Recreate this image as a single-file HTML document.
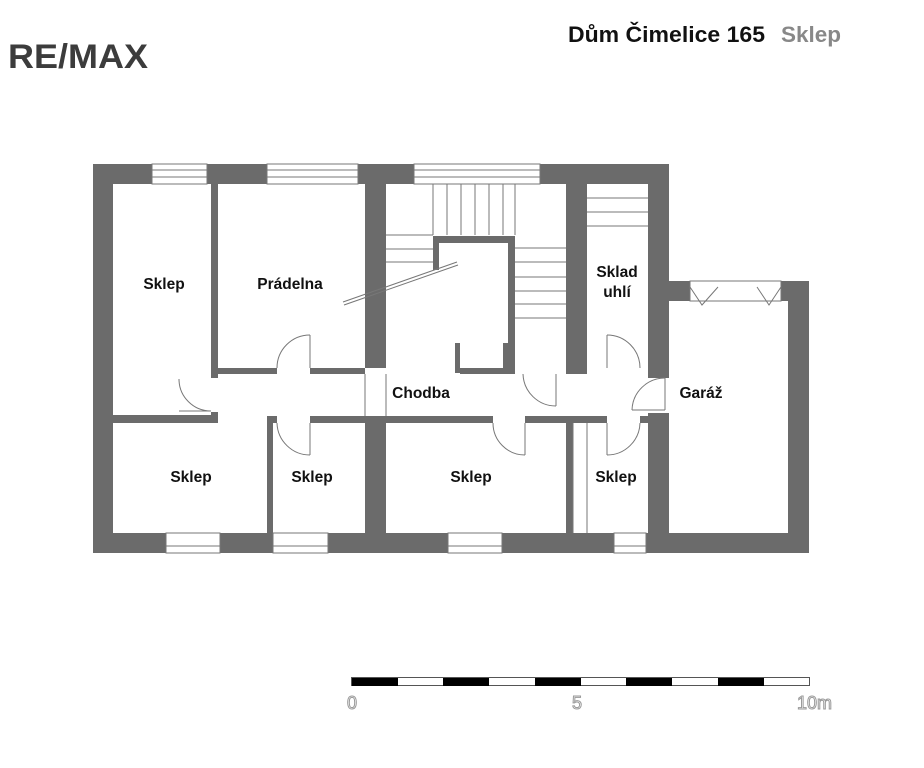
<!DOCTYPE html>
<html><head><meta charset="utf-8"><style>
html,body{margin:0;padding:0;background:#fff;}
svg{display:block;font-family:"Liberation Sans",sans-serif;}
.l{font-weight:bold;font-size:15.5px;fill:#111;text-anchor:middle;}
</style></head><body>
<svg width="924" height="768" viewBox="0 0 924 768">
<rect width="924" height="768" fill="#fff"/>
<text x="8" y="68" font-size="34" font-weight="bold" fill="#3c3c3c" textLength="140" lengthAdjust="spacingAndGlyphs">RE/MAX</text>
<text x="568" y="42" font-size="22" font-weight="bold" fill="#111" textLength="197" lengthAdjust="spacingAndGlyphs">Dům Čimelice 165</text>
<text x="781" y="42" font-size="22" font-weight="bold" fill="#888" textLength="60" lengthAdjust="spacingAndGlyphs">Sklep</text>

<rect x="93" y="164" width="576" height="389" fill="#6b6b6b"/>
<rect x="669" y="281" width="140" height="272" fill="#6b6b6b"/>
<g fill="#fff">
<rect x="113" y="184" width="98" height="231"/>
<rect x="218" y="184" width="147" height="184"/>
<rect x="218" y="374" width="430" height="42"/>
<rect x="365" y="368" width="95" height="6"/>
<rect x="113" y="423" width="154" height="110"/>
<rect x="218" y="415" width="49" height="8"/>
<rect x="273" y="423" width="92" height="110"/>
<rect x="386" y="184" width="180" height="184"/>
<rect x="515" y="368" width="51" height="6"/>
<rect x="386" y="423" width="180" height="110"/>
<rect x="573" y="423" width="14" height="110"/>
<rect x="587" y="184" width="61" height="184"/>
<rect x="587" y="368" width="61" height="6"/>
<rect x="587" y="423" width="61" height="110"/>
<rect x="669" y="301" width="119" height="232"/>
<rect x="648" y="378" width="21" height="35"/>
<rect x="211" y="378" width="7" height="34"/>
<rect x="277" y="368" width="33" height="6"/>
<rect x="277" y="416" width="33" height="7"/>
<rect x="523" y="368" width="36" height="6"/>
<rect x="607" y="368" width="33" height="6"/>
<rect x="493" y="416" width="32" height="7"/>
<rect x="607" y="416" width="33" height="7"/>
<rect x="365" y="374" width="21" height="42"/>
</g>
<g fill="#6b6b6b">
<rect x="433" y="236" width="82" height="7"/>
<rect x="433" y="236" width="6" height="34"/>
<rect x="508" y="236" width="7" height="137"/>
<rect x="503" y="343" width="12" height="30"/>
<rect x="455" y="343" width="5" height="30"/>
</g>
<g stroke="#777" stroke-width="1" fill="none">
<line x1="365" y1="374" x2="365" y2="416"/><line x1="386" y1="374" x2="386" y2="416"/>
<line x1="386" y1="235" x2="433" y2="235"/><line x1="386" y1="249" x2="433" y2="249"/><line x1="386" y1="262" x2="433" y2="262"/>
<line x1="433" y1="184" x2="433" y2="235"/><line x1="447" y1="184" x2="447" y2="235"/><line x1="461" y1="184" x2="461" y2="235"/><line x1="475" y1="184" x2="475" y2="235"/><line x1="489" y1="184" x2="489" y2="235"/><line x1="503" y1="184" x2="503" y2="235"/><line x1="515" y1="184" x2="515" y2="235"/>
<line x1="515" y1="248" x2="566" y2="248"/><line x1="515" y1="262" x2="566" y2="262"/><line x1="515" y1="277" x2="566" y2="277"/><line x1="515" y1="291" x2="566" y2="291"/><line x1="515" y1="304" x2="566" y2="304"/><line x1="515" y1="318" x2="566" y2="318"/>
<line x1="587" y1="198" x2="648" y2="198"/><line x1="587" y1="212" x2="648" y2="212"/><line x1="587" y1="226" x2="648" y2="226"/>
<line x1="573" y1="423" x2="573" y2="533"/><line x1="587" y1="423" x2="587" y2="533"/>
<line x1="343" y1="302" x2="457" y2="262"/><line x1="344" y1="305" x2="458" y2="265"/>
<line x1="310" y1="335" x2="310" y2="368"/><path d="M277,368 A33,33 0 0 1 310,335"/>
<line x1="179" y1="411" x2="211" y2="411"/><path d="M179,379 A32,32 0 0 0 211,411"/>
<line x1="310" y1="423" x2="310" y2="455"/><path d="M277,423 A33,33 0 0 0 310,455"/>
<line x1="556" y1="374" x2="556" y2="406"/><path d="M523,374 A33,33 0 0 0 556,406"/>
<line x1="607" y1="335" x2="607" y2="368"/><path d="M607,335 A33,33 0 0 1 640,368"/>
<line x1="632" y1="410" x2="665" y2="410"/><line x1="665" y1="378" x2="665" y2="410"/><path d="M632,410 A33,33 0 0 1 665,378"/>
<line x1="525" y1="423" x2="525" y2="455"/><path d="M493,423 A32,32 0 0 0 525,455"/>
<line x1="607" y1="423" x2="607" y2="455"/><path d="M640,423 A33,33 0 0 1 607,455"/>
</g>
<g fill="#fff" stroke="#777" stroke-width="1">
<rect x="152" y="164" width="55" height="20"/><rect x="267" y="164" width="91" height="20"/><rect x="414" y="164" width="126" height="20"/>
<rect x="166" y="533" width="54" height="20"/><rect x="273" y="533" width="55" height="20"/><rect x="448" y="533" width="54" height="20"/><rect x="614" y="533" width="32" height="20"/>
<rect x="690" y="281" width="91" height="20"/>
</g>
<g stroke="#777" stroke-width="1" fill="none">
<line x1="152" y1="170" x2="207" y2="170"/><line x1="152" y1="177" x2="207" y2="177"/>
<line x1="267" y1="170" x2="358" y2="170"/><line x1="267" y1="177" x2="358" y2="177"/>
<line x1="414" y1="170" x2="540" y2="170"/><line x1="414" y1="177" x2="540" y2="177"/>
<line x1="166" y1="546" x2="220" y2="546"/><line x1="273" y1="546" x2="328" y2="546"/><line x1="448" y1="546" x2="502" y2="546"/><line x1="614" y1="546" x2="646" y2="546"/>
<path d="M690,287 L702,305 L718,287"/><path d="M757,287 L769,305 L781,287"/>
</g>
<text class="l" x="164" y="289">Sklep</text>
<text class="l" x="290" y="289">Prádelna</text>
<text class="l" x="421" y="398">Chodba</text>
<text class="l" x="617" y="277">Sklad</text>
<text class="l" x="617" y="297">uhlí</text>
<text class="l" x="701" y="398">Garáž</text>
<text class="l" x="191" y="482">Sklep</text>
<text class="l" x="312" y="482">Sklep</text>
<text class="l" x="471" y="482">Sklep</text>
<text class="l" x="616" y="482">Sklep</text>
<rect x="351.5" y="677.5" width="458" height="8" fill="#fff" stroke="#555" stroke-width="1"/>
<g fill="#000"><rect x="352" y="678" width="46" height="8"/><rect x="443" y="678" width="46" height="8"/><rect x="535" y="678" width="46" height="8"/><rect x="626" y="678" width="46" height="8"/><rect x="718" y="678" width="46" height="8"/></g>
<g font-size="18" fill="#fff" stroke="#999" stroke-width="1">
<text x="347" y="709">0</text><text x="572" y="709">5</text><text x="797" y="709">10m</text>
</g>
</svg>
</body></html>
